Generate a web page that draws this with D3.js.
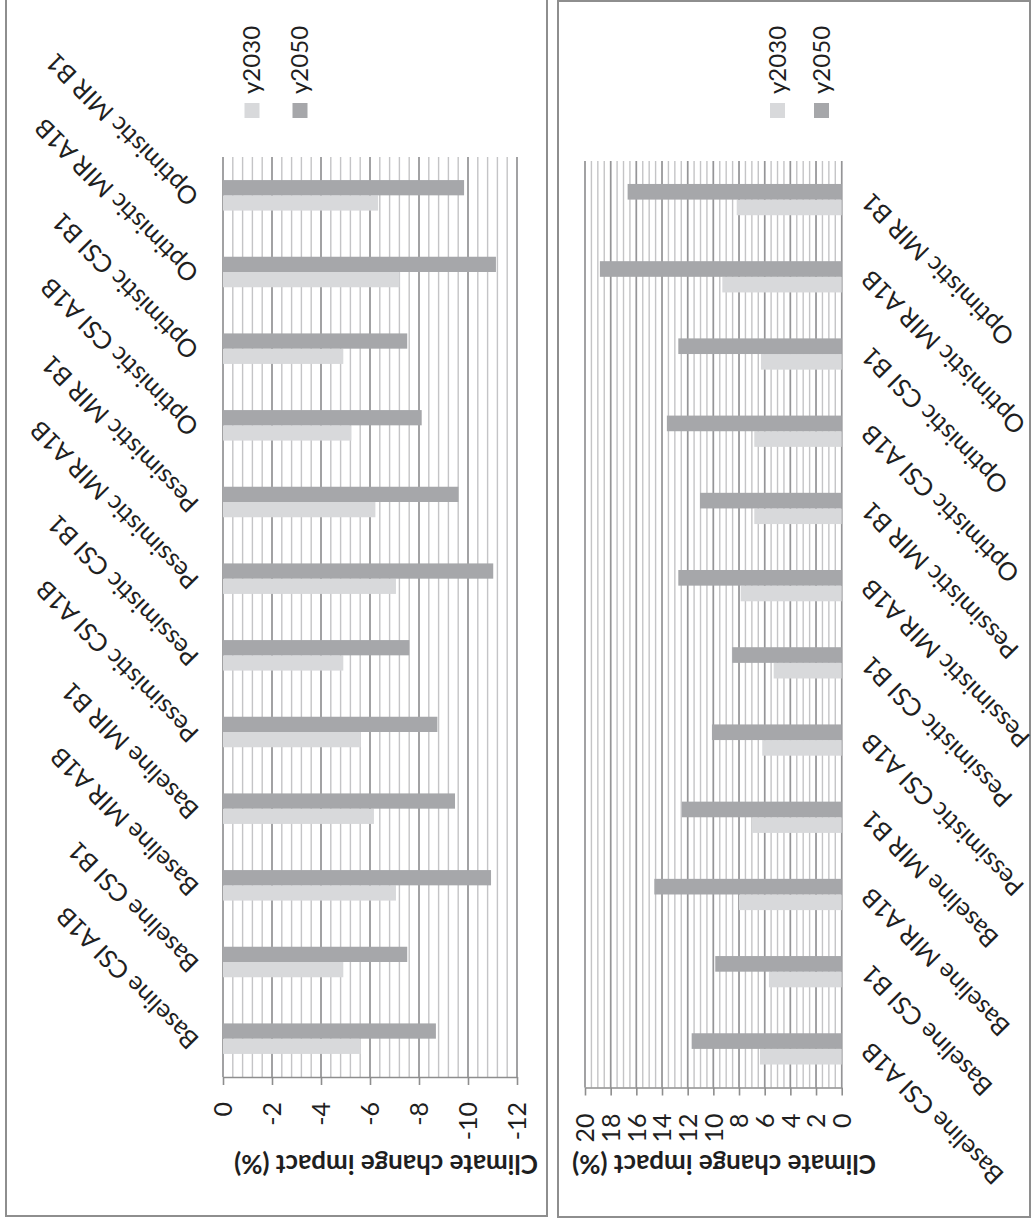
<!DOCTYPE html>
<html><head><meta charset="utf-8">
<script src="https://cdn.jsdelivr.net/npm/d3@7/dist/d3.min.js"></script>
<style>html,body{margin:0;padding:0;background:#fff;} svg{display:block;}</style>
</head><body>
<svg id="chart" width="1035" height="1225"></svg>
<script>
// ---------- data ----------
const categories = ["Baseline CSI A1B","Baseline CSI B1","Baseline MIR A1B","Baseline MIR B1",
  "Pessimistic CSI A1B","Pessimistic CSI B1","Pessimistic MIR A1B","Pessimistic MIR B1",
  "Optimistic CSI A1B","Optimistic CSI B1","Optimistic MIR A1B","Optimistic MIR B1"];
const seriesNames = ["y2030","y2050"];
// left panel (negative impacts)
const leftY2030 = [-5.62,-4.91,-7.06,-6.16,-5.62,-4.91,-7.06,-6.22,-5.24,-4.91,-7.20,-6.33];
const leftY2050 = [-8.69,-7.52,-10.94,-9.47,-8.75,-7.60,-11.03,-9.61,-8.11,-7.52,-11.14,-9.84];
// right panel (positive impacts)
const rightY2030 = [6.37,5.67,8.00,7.01,6.19,5.30,7.87,6.81,6.81,6.29,9.30,8.18];
const rightY2050 = [11.69,9.85,14.60,12.45,10.11,8.53,12.73,11.04,13.62,12.73,18.84,16.68];
const leftTicks = [0,-2,-4,-6,-8,-10,-12];
const rightTicks = [0,2,4,6,8,10,12,14,16,18,20];
const axisTitle = "Climate change impact (%)";

// ---------- style ----------
const colors = {y2030:"#d8d9db", y2050:"#a6a7aa"};
const FONT = "Lato, 'Open Sans', sans-serif";
const TEXT = "#1f1f1f";

const svg = d3.select("#chart");

function panel(cfg) {
  const g = svg.append("g");
  // frame
  g.append("rect").attr("x", cfg.frame[0]).attr("y", cfg.frame[1])
    .attr("width", cfg.frame[2]).attr("height", cfg.frame[3])
    .attr("fill", "none").attr("stroke", "#8e8e8e").attr("stroke-width", 2);

  const x = d3.scaleLinear().domain(cfg.domain).range([cfg.x0, cfg.x1]);
  const y = d3.scaleBand().domain(categories).range([cfg.bottom, cfg.top])
    .paddingInner(cfg.pad).paddingOuter(cfg.pad / 2);
  const ys = d3.scaleBand().domain(["y2050","y2030"]).range([0, y.bandwidth()]);

  // gridlines
  const span = Math.abs(cfg.domain[1] - cfg.domain[0]);
  const sign = Math.sign(cfg.domain[1] - cfg.domain[0]);
  const nMinor = Math.round(span / cfg.minor);
  const minorVals = d3.range(0, nMinor + 1).map(i => i * cfg.minor * sign);
  g.append("g").selectAll("line").data(minorVals).join("line")
    .attr("x1", d => x(d)).attr("x2", d => x(d))
    .attr("y1", cfg.top).attr("y2", cfg.bottom)
    .attr("stroke", "#c4c4c6").attr("stroke-width", 1.4);
  g.append("g").selectAll("line").data(cfg.ticks).join("line")
    .attr("x1", d => x(d)).attr("x2", d => x(d))
    .attr("y1", cfg.top).attr("y2", cfg.bottom)
    .attr("stroke", "#959597").attr("stroke-width", 1.6);

  // bars
  const rows = categories.map((c, i) => ({c, y2030: cfg.s2030[i], y2050: cfg.s2050[i]}));
  const cg = g.append("g").selectAll("g").data(rows).join("g")
    .attr("transform", d => `translate(0,${y(d.c)})`);
  cg.selectAll("rect").data(d => seriesNames.map(k => ({k, v: d[k]}))).join("rect")
    .attr("x", d => Math.min(x(0), x(d.v)))
    .attr("width", d => Math.abs(x(d.v) - x(0)))
    .attr("y", d => ys(d.k)).attr("height", ys.bandwidth())
    .attr("fill", d => colors[d.k]);

  // value axis
  const ax = g.append("g").attr("transform", `translate(0,${cfg.bottom})`)
    .call(d3.axisBottom(x).tickValues(cfg.ticks).tickSize(8).tickSizeOuter(0)
      .tickFormat(d => String(d)));
  ax.select(".domain").attr("stroke", "#8e8e8e").attr("stroke-width", 1.6);
  ax.selectAll(".tick line").attr("stroke", "#8e8e8e").attr("stroke-width", 1.6);
  ax.selectAll(".tick text")
    .attr("transform", "rotate(-90)")
    .attr("x", -cfg.tickGap).attr("y", 0).attr("dy", "0.35em")
    .attr("text-anchor", "end")
    .attr("font-family", FONT).attr("font-size", 25).attr("fill", TEXT);

  // category labels
  g.append("g").selectAll("text").data(categories).join("text")
    .attr("transform", d => {
      const yc = y(d) + y.bandwidth() / 2 + cfg.labDy;
      return `translate(${cfg.labX},${yc}) rotate(-135)`;
    })
    .attr("dy", "0.35em")
    .attr("text-anchor", cfg.labAnchor)
    .attr("font-family", FONT).attr("font-size", 25).attr("fill", TEXT)
    .text(d => d);

  // axis title (upside down)
  g.append("text")
    .attr("transform", `translate(${cfg.titleX},${cfg.titleY}) rotate(180)`)
    .attr("text-anchor", "middle")
    .attr("font-family", FONT).attr("font-weight", "bold")
    .attr("font-size", 26).attr("fill", TEXT)
    .text(axisTitle);

  // legend
  const lg = g.append("g").selectAll("g").data(seriesNames).join("g")
    .attr("transform", (d, i) => `translate(${cfg.legX[i]},0)`);
  lg.append("rect").attr("x", -7.5).attr("y", 103).attr("width", 15).attr("height", 15)
    .attr("fill", d => colors[d]);
  lg.append("text").attr("transform", "translate(0,94) rotate(-90)")
    .attr("dy", "0.35em").attr("text-anchor", "start")
    .attr("font-family", FONT).attr("font-size", 24).attr("fill", TEXT)
    .text(d => d);
}

panel({
  frame: [6, -3, 541, 1219],
  domain: [0, -12], x0: 223, x1: 517, top: 157, bottom: 1077, pad: 0.602,
  minor: 0.4, ticks: leftTicks, s2030: leftY2030, s2050: leftY2050,
  tickGap: 25, labX: 194, labDy: 6, labAnchor: "start",
  titleX: 386, titleY: 1155, legX: [252, 300]
});
panel({
  frame: [558, 1, 472, 1216],
  domain: [0, 20], x0: 841.7, x1: 585, top: 161, bottom: 1087.5, pad: 0.595,
  minor: 0.5, ticks: rightTicks, s2030: rightY2030, s2050: rightY2050,
  tickGap: 26, labX: 866, labDy: -2, labAnchor: "end",
  titleX: 724, titleY: 1155, legX: [777.5, 821.5]
});
</script>
</body></html>
